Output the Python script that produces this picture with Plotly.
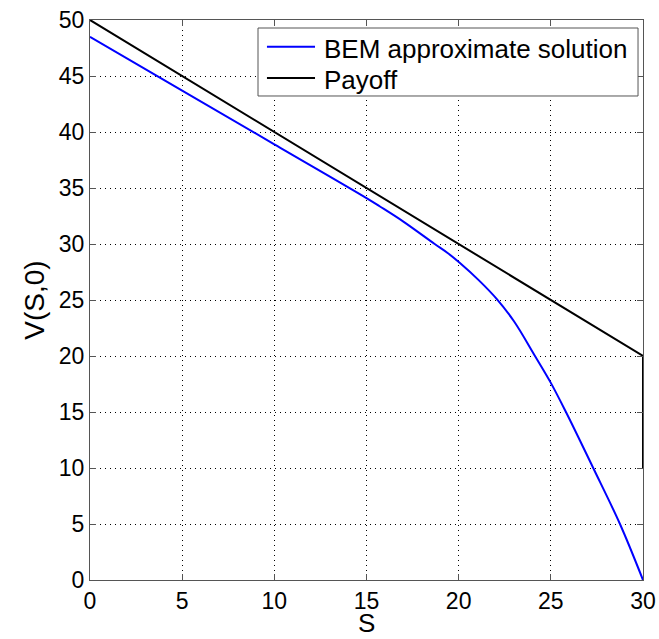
import plotly.graph_objects as go

# Option value at t=0 from the boundary element method
s_bem = [0, 5, 10, 15, 15.73, 17, 18.7, 19.4, 20.07, 21.1, 22.06, 23.0, 24.14, 25.0, 25.82, 27.3, 28.75, 30]
v_bem = [48.5, 43.7, 38.9, 34.1, 33.35, 32.0, 30.0, 29.2, 28.3, 26.75, 25.1, 23.1, 20.0, 17.6, 15.0, 10.0, 5.0, 0]

# Payoff curve
s_pay = [0, 30, 30]
v_pay = [50, 20, 10]

x_ticks = [0, 5, 10, 15, 20, 25, 30]
y_ticks = [0, 5, 10, 15, 20, 25, 30, 35, 40, 45, 50]

font_family = "Liberation Sans, Arial, sans-serif"
bem_color = "#0000ff"
payoff_color = "#000000"

fig = go.Figure()
fig.add_trace(go.Scatter(
    x=s_bem, y=v_bem, mode="lines", name="BEM approximate solution",
    line=dict(color=bem_color, width=2, shape="spline", smoothing=1.0),
    showlegend=False,
))
fig.add_trace(go.Scatter(
    x=s_pay, y=v_pay, mode="lines", name="Payoff",
    line=dict(color=payoff_color, width=2),
    showlegend=False,
))

axis_common = dict(
    showline=True, linecolor="#555555", linewidth=1, mirror="ticks",
    ticks="inside", ticklen=6, tickcolor="#555555",
    showgrid=True, gridcolor="#000000", griddash="1px,4px", gridwidth=1,
    zeroline=False, automargin=False,
    tickfont=dict(size=23, color="#000000", family=font_family),
)

fig.update_xaxes(range=[0, 30], tickvals=x_ticks, **axis_common)
fig.update_yaxes(
    range=[0, 50], tickvals=y_ticks, **axis_common,
    title=dict(text="V(S,0)", font=dict(size=28, color="#000000", family=font_family), standoff=6),
)

# x-axis label placed below the tick labels
fig.add_annotation(
    x=0.5, y=-0.077, xref="paper", yref="paper",
    text="S", showarrow=False, xanchor="center", yanchor="middle",
    font=dict(size=26, color="#000000", family=font_family),
)

# Boxed legend in the upper-right corner of the axes
leg_x0, leg_x1, leg_y0, leg_y1 = 0.3038, 0.991, 0.8643, 0.9857
line_x0, line_x1, text_x = 0.320, 0.4069, 0.4195
entries = [
    ("BEM approximate solution", bem_color, 0.9523),
    ("Payoff", payoff_color, 0.8964),
]

fig.add_shape(
    type="rect", xref="paper", yref="paper",
    x0=leg_x0, x1=leg_x1, y0=leg_y0, y1=leg_y1,
    line=dict(color="#555555", width=1), fillcolor="#ffffff", layer="above",
)
for label, color, ypos in entries:
    fig.add_shape(
        type="line", xref="paper", yref="paper",
        x0=line_x0, x1=line_x1, y0=ypos, y1=ypos,
        line=dict(color=color, width=2), layer="above",
    )
    fig.add_annotation(
        x=text_x, y=ypos, xref="paper", yref="paper",
        text=label, showarrow=False, xanchor="left", yanchor="middle", yshift=-2,
        font=dict(size=26, color="#000000", family=font_family),
    )

fig.update_layout(
    width=659, height=639,
    margin=dict(l=90, r=16, t=20, b=59, autoexpand=False),
    paper_bgcolor="#ffffff", plot_bgcolor="#ffffff",
)

fig.write_html("out.html")
